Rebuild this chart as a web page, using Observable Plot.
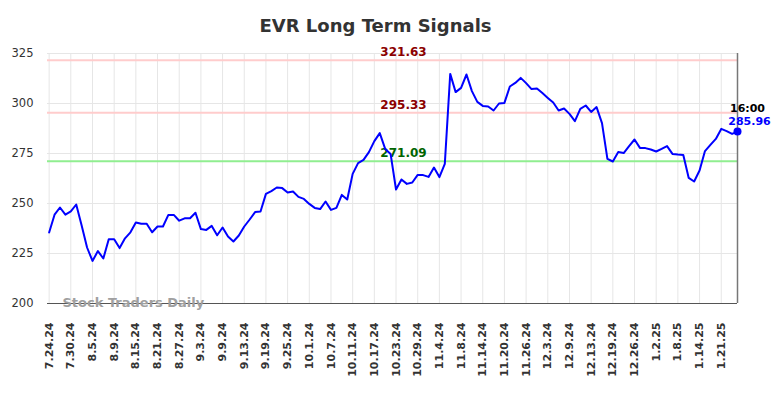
<!DOCTYPE html>
<html>
<head>
<meta charset="utf-8">
<script src="https://cdn.jsdelivr.net/npm/d3@7"></script>
<script src="https://cdn.jsdelivr.net/npm/@observablehq/plot@0.6"></script>
<style>
  html, body { margin: 0; padding: 0; background: #fff; }
  #chart svg { display: block; }
</style>
</head>
<body>
<div id="chart"></div>
<script>
const title = "EVR Long Term Signals";
const watermark = "Stock Traders Daily";

// closing prices, one per trading day (7.24.24 ... 1.24.25)
const closes = [
  235.5, 244.4, 248.0, 244.4, 246.1, 249.5, 239.0, 228.0, 221.3, 226.2,
  222.5, 232.1, 232.1, 227.7, 232.6, 235.6, 240.5, 239.9, 239.9, 235.6,
  238.5, 238.5, 244.3, 244.3, 241.4, 242.6, 242.6, 245.4, 237.2, 236.8,
  238.8, 234.1, 238.0, 233.5, 231.0, 234.0, 238.5, 242.0, 245.7, 246.0,
  254.8, 256.2, 258.0, 257.7, 255.5, 256.0, 253.3, 252.3, 249.8, 247.8,
  247.2, 251.0, 246.8, 247.8, 254.3, 252.0, 264.8, 270.2, 271.8, 275.7,
  281.2, 285.2, 277.3, 274.8, 257.0, 262.0, 259.8, 260.5, 264.3, 264.2,
  263.3, 268.0, 263.2, 269.8, 314.8, 305.7, 307.8, 314.5, 306.2, 300.8,
  298.8, 298.5, 296.5, 300.0, 300.3, 308.5, 310.3, 312.8, 310.2, 307.2,
  307.5, 305.2, 302.8, 300.5, 296.5, 297.5, 294.8, 291.2, 297.3, 299.0,
  295.8, 298.2, 290.2, 272.3, 271.0, 275.7, 275.2, 278.7, 282.0, 277.8,
  277.7, 277.0, 276.0, 277.3, 278.7, 274.8, 274.5, 274.3, 262.8, 261.0,
  266.5, 276.2, 279.3, 282.3, 287.3, 286.2, 284.8, 285.96
];

// x tick labels (every 4th trading day)
const tickLabels = [
  "7.24.24","7.30.24","8.5.24","8.9.24","8.15.24","8.21.24","8.27.24","9.3.24",
  "9.9.24","9.13.24","9.19.24","9.25.24","10.1.24","10.7.24","10.11.24","10.17.24",
  "10.23.24","10.29.24","11.4.24","11.8.24","11.14.24","11.20.24","11.26.24","12.3.24",
  "12.9.24","12.13.24","12.19.24","12.26.24","1.2.25","1.8.25","1.14.25","1.21.25"
];
const tickStep = 4;
const yTicks = [200, 225, 250, 275, 300, 325];

const levelValues = [321.63, 295.33, 271.09];
const levelKinds = ["resistance", "resistance", "support"];
const lastTime = "16:00";

const series = closes.map((v, i) => ({i, v}));
const tickIdx = tickLabels.map((_, k) => k * tickStep);
const levels = levelValues.map((v, k) => ({v, kind: levelKinds[k]}));
const last = series[series.length - 1];

const lineColor = {resistance: "#ffcccc", support: "#90ee90"};
const textColor = {resistance: "#8b0000", support: "#006400"};

const chart = Plot.plot({
  width: 784,
  height: 398,
  marginTop: 53,
  marginBottom: 95,
  marginLeft: 47,
  marginRight: 47,
  style: {fontFamily: "DejaVu Sans", background: "#fff", overflow: "visible"},
  x: {domain: [-0.3, closes.length - 1], label: null},
  y: {domain: [200, 325], label: null},
  marks: [
    Plot.gridY(yTicks, {stroke: "#e6e6e6", strokeOpacity: 1, strokeWidth: 1}),
    Plot.gridX(tickIdx, {stroke: "#e6e6e6", strokeOpacity: 1, strokeWidth: 1}),
    Plot.axisY(yTicks, {tickSize: 0, tickPadding: 14, fontSize: 11.5, fill: "#333", label: null, tickFormat: d => d}),
    Plot.axisX(tickIdx, {
      tickSize: 0, tickPadding: 19, tickRotate: -90, fontSize: 11, fontWeight: "bold", fill: "#333", label: null,
      tickFormat: (d) => tickLabels[d / tickStep]
    }),
    Plot.ruleY(levels, {y: "v", stroke: d => lineColor[d.kind], strokeWidth: 2}),
    Plot.text(levels, {
      y: "v", text: d => d.v.toFixed(2), fill: d => textColor[d.kind],
      frameAnchor: "middle", dx: 11, dy: -8, fontSize: 12, fontWeight: "bold"
    }),
    Plot.ruleY([200], {stroke: "#555", strokeWidth: 1}),
    Plot.ruleX([last.i], {stroke: "#777", strokeWidth: 1.5}),
    Plot.text([watermark], {
      frameAnchor: "bottom-left", lineAnchor: "middle", dx: 15, dy: -1, textAnchor: "start",
      fill: "#a0a0a0", fontSize: 13, fontWeight: "bold"
    }),
    Plot.line(series, {x: "i", y: "v", stroke: "#0000ff", strokeWidth: 2}),
    Plot.dot([last], {x: "i", y: "v", r: 4, fill: "#0000ff"}),
    Plot.text([last], {x: "i", y: "v", text: () => lastTime, dx: 10, dy: -23, fontSize: 11, fontWeight: "bold", fill: "#000"}),
    Plot.text([last], {x: "i", y: "v", text: d => d.v.toFixed(2), dx: 12, dy: -10, fontSize: 11, fontWeight: "bold", fill: "#0000ff"}),
    Plot.text([title], {frameAnchor: "top", lineAnchor: "middle", dx: -17, dy: -27, fontSize: 18, fontWeight: "bold", fill: "#333"})
  ]
});
document.getElementById("chart").appendChild(chart);
</script>
</body>
</html>
